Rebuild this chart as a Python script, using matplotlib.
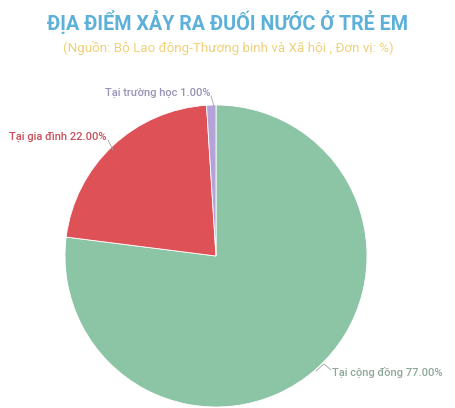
import matplotlib
matplotlib.use("Agg")
import matplotlib.pyplot as plt

# data
labels = ["Tại cộng đồng", "Tại gia đình", "Tại trường học"]
values = [77.0, 22.0, 1.0]
colors = ["#8cc5a6", "#de5157", "#b4a3d8"]
label_colors = ["#8fa89b", "#c8505a", "#9a93b8"]

title = "ĐỊA ĐIỂM XẢY RA ĐUỐI NƯỚC Ở TRẺ EM"
subtitle = "(Nguồn: Bộ Lao động-Thương binh và Xã hội , Đơn vị: %)"

plt.rcParams['font.family'] = ['Roboto', 'DejaVu Sans']

fig = plt.figure(figsize=(4.56, 4.08), dpi=100)
fig.patch.set_facecolor("white")

fig.text(0.5, 1 - 22 / 408, title, ha="center", va="center",
         fontsize=14.2, fontweight="bold", color="#5db1d9")
fig.text(0.5, 1 - 48 / 408, subtitle, ha="center", va="center",
         fontsize=9.6, color="#efd078")

# pie centre ~ (216, 256) px, radius ~151 px
ax = fig.add_axes([65 / 456, 1 / 408, 302 / 456, 302 / 408])
wedges, _ = ax.pie(values, colors=colors, startangle=90, counterclock=False,
                   radius=1.0, wedgeprops=dict(linewidth=0.6, edgecolor="white"))
ax.set_xlim(-1, 1)
ax.set_ylim(-1, 1)
ax.set_aspect("equal")
ax.axis("off")


def px(x, y):
    # figure pixel (from top-left) to axes data coords
    return ((x - 216) / 151.0, (256 - y) / 151.0)


# label anchors (text positions in pixels) and leader paths
texts = [
    (f"{labels[0]} {values[0]:.2f}%", (332, 372), "left",
     [(316, 371), (324, 364), (331, 370)]),
    (f"{labels[1]} {values[1]:.2f}%", (107, 137), "right",
     [(113, 150), (108, 140)]),
    (f"{labels[2]} {values[2]:.2f}%", (211, 93), "right",
     [(214, 106), (211, 96)]),
]

for i, (txt, pos, ha, path) in enumerate(texts):
    x, y = px(*pos)
    ax.text(x, y, txt, ha=ha, va="center", fontsize=8.0, fontweight="medium",
            color=label_colors[i], clip_on=False)
    pts = [px(a, b) for a, b in path]
    ax.plot([p[0] for p in pts], [p[1] for p in pts], color="#9aa5a0",
            linewidth=0.6, clip_on=False)

fig.savefig("out.png", dpi=100)
